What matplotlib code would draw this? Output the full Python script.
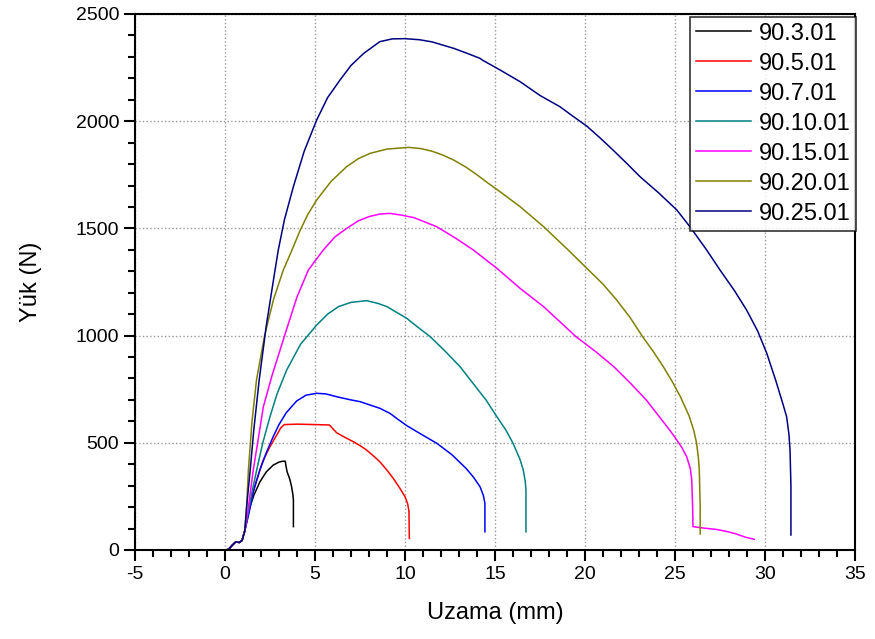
import matplotlib
matplotlib.use("Agg")
import matplotlib.pyplot as plt
from matplotlib.ticker import MultipleLocator

plt.rcParams['font.family'] = ['Liberation Sans', 'DejaVu Sans']
plt.rcParams['axes.unicode_minus'] = False

labels = ["90.3.01", "90.5.01", "90.7.01", "90.10.01", "90.15.01", "90.20.01", "90.25.01"]
colors = ["#000000", "#FF0000", "#0000FF", "#008080", "#FF00FF", "#808000", "#000080"]

toe_x = [0, 0.2, 0.4, 0.6, 0.8, 0.95, 1.1]
toe_y = [0, 3, 22, 38, 35, 45, 90]

x_3 = toe_x + [1.2, 1.39, 1.6, 1.94, 2.3, 2.68, 3.0, 3.2, 3.35, 3.38, 3.45, 3.6, 3.7, 3.77, 3.8, 3.8]
y_3 = toe_y + [140, 202, 255, 318, 365, 396, 410, 414, 414, 395, 365, 330, 295, 260, 233, 109]

x_5 = toe_x + [1.2, 1.3, 1.5, 1.76, 2.1, 2.5, 2.9, 3.1, 3.3, 4.0, 5.0, 5.8, 6.0, 6.2, 6.6, 7.13, 7.5, 7.87,
               8.3, 8.6, 9.0, 9.35, 9.7, 10.0, 10.15, 10.22, 10.24]
y_5 = toe_y + [130, 170, 250, 327, 415, 482, 540, 570, 585, 587, 585, 583, 565, 547, 528, 505, 487, 466,
               435, 412, 372, 334, 290, 249, 215, 180, 54]

x_7 = toe_x + [1.3, 1.6, 1.94, 2.3, 2.68, 3.0, 3.4, 3.98, 4.5, 5.09, 5.6, 6.3, 7.0, 7.5, 8.1, 8.6, 9.17,
               9.6, 10.1, 10.9, 11.76, 12.6, 13.4, 13.8, 14.17, 14.35, 14.44, 14.44]
y_7 = toe_y + [160, 280, 373, 455, 529, 585, 640, 695, 722, 731, 728, 713, 700, 692, 675, 661, 637,
               610, 580, 540, 498, 445, 380, 340, 295, 255, 218, 85]

x_10 = toe_x + [1.3, 1.5, 1.76, 2.1, 2.5, 2.9, 3.43, 4.2, 5.09, 5.7, 6.3, 7.0, 7.87, 8.5, 9.0, 9.5, 10.09,
                10.7, 11.4, 12.2, 13.06, 13.8, 14.5, 15.1, 15.6, 16.0, 16.25, 16.4, 16.57, 16.68, 16.72, 16.72]
y_10 = toe_y + [180, 270, 373, 500, 622, 730, 840, 960, 1049, 1100, 1135, 1155, 1163, 1150, 1135, 1110, 1081,
                1040, 995, 930, 855, 775, 700, 622, 560, 498, 450, 420, 373, 320, 280, 85]

x_15 = toe_x + [1.3, 1.57, 1.85, 2.13, 2.6, 3.06, 3.5, 4.0, 4.63, 5.46, 6.1, 6.76, 7.4, 8.0, 8.6, 9.17,
                9.8, 10.5, 11.1, 11.76, 12.8, 13.8, 15.1, 16.4, 17.7, 18.6, 19.5, 20.6, 21.6, 22.5, 23.4,
                24.2, 24.7, 25.1, 25.4, 25.65, 25.85, 25.93, 25.98, 26.0, 26.4, 27.3, 27.9, 28.4, 28.9, 29.4]
y_15 = toe_y + [200, 373, 520, 668, 810, 933, 1050, 1180, 1306, 1399, 1460, 1500, 1535, 1555, 1567, 1570,
                1562, 1550, 1530, 1508, 1455, 1399, 1314, 1220, 1135, 1065, 995, 925, 855, 780, 700,
                614, 560, 513, 475, 435, 380, 327, 200, 109, 104, 96, 86, 75, 60, 50]

x_20 = toe_x + [1.2, 1.3, 1.5, 1.75, 2.2, 2.7, 3.24, 3.65, 4.17, 4.6, 5.09, 5.9, 6.76, 7.4, 8.06, 9.0, 10.2,
                10.9, 11.5, 12.1, 12.7, 13.4, 14.0, 14.6, 15.28, 16.4, 17.7, 19.07, 20.1, 21.0, 21.76,
                22.5, 23.2, 23.8, 24.35, 24.85, 25.3, 25.8, 26.05, 26.2, 26.3, 26.35, 26.4, 26.4]
y_20 = toe_y + [200, 373, 600, 793, 1000, 1170, 1306, 1385, 1490, 1565, 1632, 1720, 1788, 1825, 1850, 1870, 1878,
                1872, 1860, 1842, 1819, 1785, 1750, 1712, 1671, 1601, 1508, 1399, 1314, 1240, 1166,
                1085, 995, 925, 855, 785, 715, 622, 555, 498, 430, 373, 200, 75]

x_25 = toe_x + [1.2, 1.4, 1.6, 1.9, 2.3, 2.78, 2.96, 3.3, 3.8, 4.4, 5.09, 5.7, 6.39, 7.0, 7.7, 8.6, 9.3,
                10.0, 10.8, 11.5, 12.7, 13.5, 14.17, 14.3, 15.28, 16.4, 17.5, 18.6, 19.3, 20.1, 20.8,
                21.5, 22.3, 23.06, 24.1, 25.1, 25.9, 26.76, 27.5, 28.3, 28.98, 29.6, 30.1, 30.6, 31.0,
                31.2, 31.33, 31.39, 31.44, 31.44]
y_25 = toe_y + [200, 373, 560, 793, 1050, 1306, 1399, 1540, 1695, 1860, 2005, 2110, 2192, 2260, 2316, 2371, 2384,
                2385, 2380, 2370, 2340, 2315, 2293, 2285, 2239, 2184, 2120, 2068, 2025, 1977, 1925,
                1870, 1805, 1741, 1665, 1586, 1500, 1399, 1306, 1210, 1119, 1020, 917, 790, 680,
                622, 540, 466, 300, 70]

xs = [x_3, x_5, x_7, x_10, x_15, x_20, x_25]
ys = [y_3, y_5, y_7, y_10, y_15, y_20, y_25]

fig = plt.figure(figsize=(8.75, 6.39), dpi=100)
ax = fig.add_axes([135/875, 89/639, 720/875, 536/639])

for x, y, c, l in zip(xs, ys, colors, labels):
    ax.plot(x, y, color=c, lw=1.1, label=l)

ax.set_xlim(-5, 35)
ax.set_ylim(0, 2500)
ax.xaxis.set_major_locator(MultipleLocator(5))
ax.xaxis.set_minor_locator(MultipleLocator(1))
ax.yaxis.set_major_locator(MultipleLocator(500))
ax.yaxis.set_minor_locator(MultipleLocator(100))
ax.tick_params(which='major', direction='out', length=8, width=1.5, labelsize=14)
ax.tick_params(which='minor', direction='out', length=5, width=1.5)
ax.tick_params(top=False, right=False)
for s in ax.spines.values():
    s.set_linewidth(1.5)
ax.grid(which='major', linestyle=':', color='#999999', linewidth=1.0)
ax.set_axisbelow(True)

ax.set_xlabel("Uzama (mm)", fontsize=17, labelpad=14)
ax.set_ylabel("Yük (N)", fontsize=17, labelpad=24)

leg = ax.legend(loc='upper right', bbox_to_anchor=(1.002, 0.995), fontsize=17, frameon=True,
                fancybox=False, edgecolor='black', borderaxespad=0.0, handlelength=2.3,
                labelspacing=0.34, handletextpad=0.35, borderpad=0.25)
leg.get_frame().set_linewidth(1.2)

fig.savefig("out.png", dpi=100)
